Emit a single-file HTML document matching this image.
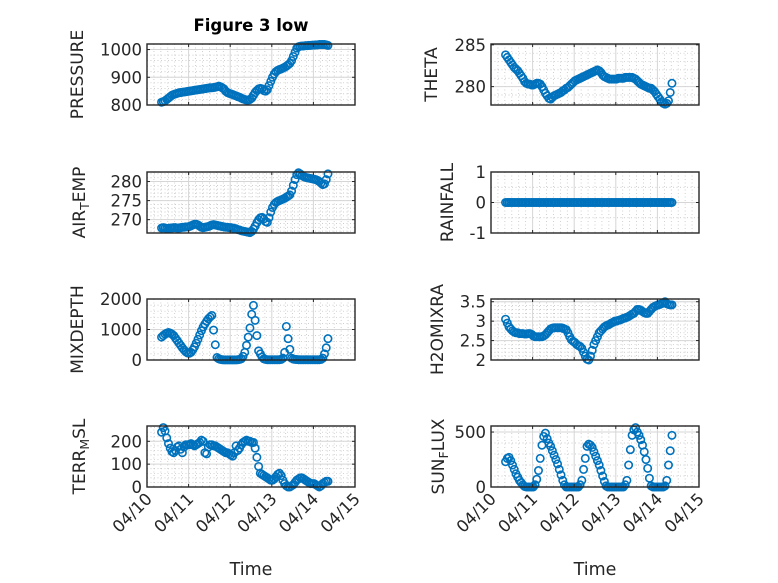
<!DOCTYPE html>
<html><head><meta charset="utf-8">
<style>
html,body{margin:0;padding:0;background:#fff;}
svg{display:block;font-family:"DejaVu Sans","Liberation Sans",sans-serif;}
</style></head>
<body>
<svg id="fig" width="778" height="583" viewBox="0 0 778 583" xmlns="http://www.w3.org/2000/svg">
<rect width="778" height="583" fill="#fff"/>
<text x="251" y="31" text-anchor="middle" font-size="16.5" font-weight="bold" fill="#000">Figure 3 low</text>
</svg>
<script>
const startDay = 0.35;
const stepDays = 1/24;
const xTickLabels = ["04/10","04/11","04/12","04/13","04/14","04/15"];
const pressure = [810,812,815,820,825,830,835,838,840,842,844,845,846,847,848,849,
850,851,852,853,854,855,856,857,858,859,860,861,862,862,863,864,
866,868,866,862,858,850,845,842,840,838,835,833,830,828,825,822,
820,818,818,820,825,835,845,852,858,860,858,852,850,855,870,885,
900,912,920,925,928,930,933,936,940,945,950,960,975,990,1005,1010,
1012,1013,1013,1014,1014,1015,1015,1016,1016,1017,1017,1018,1018,1018,1018,1017,1015];
const theta = [283.8,283.5,283.2,282.9,282.6,282.3,282.1,281.9,281.6,281.3,281.0,280.6,280.4,280.3,280.3,280.2,
280.2,280.3,280.4,280.4,280.3,280.0,279.6,279.2,278.9,278.6,278.5,278.7,278.9,279.0,279.1,279.2,
279.3,279.5,279.6,279.8,279.9,280.1,280.3,280.5,280.7,280.8,280.9,281.0,281.1,281.2,281.3,281.4,
281.5,281.6,281.7,281.8,281.9,282.0,281.9,281.7,281.4,281.2,281.1,281.0,280.9,280.9,280.9,280.9,
280.9,281.0,281.0,281.0,281.0,281.1,281.1,281.1,281.1,281.1,281.0,280.9,280.7,280.5,280.3,280.2,
280.1,280.0,279.9,279.8,279.8,279.6,279.4,279.1,278.8,278.5,278.2,278.0,277.9,278.0,278.3,279.3,280.4];
const airTemp = [267.8,267.9,267.8,267.7,267.7,267.8,267.8,267.9,267.9,267.8,267.8,267.9,268.0,268.0,268.1,268.1,
268.2,268.4,268.6,268.8,268.8,268.6,268.3,268.0,267.9,268.0,268.1,268.2,268.4,268.6,268.7,268.6,
268.5,268.4,268.3,268.2,268.1,268.0,268.0,267.9,267.9,267.8,267.7,267.6,267.4,267.3,267.1,267.0,
266.9,266.8,266.7,266.6,266.9,267.5,268.3,269.2,270.0,270.5,270.6,270.2,269.5,269.3,270.5,272.0,
273.2,274.0,274.5,274.8,275.0,275.2,275.4,275.6,275.9,276.2,276.5,277.5,279.0,280.5,281.8,282.3,
282.0,281.6,281.3,281.1,281.0,280.9,280.8,280.7,280.6,280.5,280.3,280.0,279.6,279.2,279.4,280.5,282.0];
const rainfall = [0,0,0,0,0,0,0,0,0,0,0,0,0,0,0,0,0,0,0,0,0,0,0,0,0,0,0,0,0,0,0,0,0,0,0,0,0,0,0,0,0,0,0,0,0,0,0,0,
0,0,0,0,0,0,0,0,0,0,0,0,0,0,0,0,0,0,0,0,0,0,0,0,0,0,0,0,0,0,0,0,0,0,0,0,0,0,0,0,0,0,0,0,0,0,0,0,0];
const mixDepth = [750,800,850,880,900,880,850,800,720,640,560,480,400,330,270,230,
220,250,330,430,550,680,820,960,1080,1180,1270,1350,1410,1460,980,500,
80,40,20,10,5,5,5,5,5,5,5,5,10,20,40,120,
250,480,750,1050,1500,1790,1300,800,300,200,100,40,20,10,10,10,
10,10,10,10,10,20,60,250,1100,700,350,60,30,20,15,10,
10,10,10,10,10,10,10,10,10,10,10,10,20,60,200,400,700];
const h2oMixRa = [3.05,2.95,2.85,2.8,2.75,2.72,2.7,2.7,2.68,2.68,2.68,2.67,2.67,2.68,2.68,2.66,
2.62,2.6,2.6,2.6,2.6,2.6,2.62,2.65,2.7,2.75,2.8,2.82,2.83,2.83,2.83,2.83,
2.83,2.82,2.8,2.78,2.7,2.6,2.52,2.48,2.45,2.4,2.37,2.35,2.3,2.2,2.1,2.02,
2.0,2.1,2.25,2.4,2.5,2.6,2.7,2.75,2.8,2.85,2.88,2.9,2.92,2.95,2.97,3.0,
3.0,3.02,3.03,3.05,3.07,3.08,3.1,3.12,3.15,3.18,3.2,3.25,3.3,3.3,3.28,3.25,
3.22,3.2,3.2,3.25,3.3,3.35,3.38,3.4,3.42,3.43,3.45,3.47,3.5,3.45,3.43,3.42,3.42];
const terrMsl = [240,260,245,215,190,170,155,150,160,175,180,165,150,175,185,185,
185,190,185,180,185,190,195,205,200,150,145,175,185,185,180,180,
175,170,165,160,155,150,150,145,140,135,150,180,160,170,185,195,
200,205,200,200,195,195,170,130,90,60,55,50,45,40,35,30,
30,35,45,55,60,50,30,15,5,0,0,5,10,20,30,35,
40,40,35,30,25,20,15,15,15,10,5,0,5,15,20,25,25];
const sunFlux = [230,260,270,240,200,160,120,90,60,40,20,5,0,0,0,0,
0,20,70,150,260,380,460,490,440,400,370,330,290,250,210,160,
110,60,20,0,0,0,0,0,0,0,0,20,60,160,260,370,
390,380,360,320,280,240,200,150,100,50,10,0,0,0,0,0,
0,0,0,0,0,20,60,200,340,470,520,540,500,470,430,380,
320,250,170,80,10,0,0,0,0,0,0,0,10,60,200,330,470];
const pressureTicks = [800,900,1000];
const thetaTicks = [280,285];
const airTicks = [270,275,280];
const rainTicks = [-1,0,1];
const mixTicks = [0,1000,2000];
const h2oTicks = [2,2.5,3,3.5];
const terrTicks = [0,100,200];
const sunTicks = [0,500];

const NS = "http://www.w3.org/2000/svg";
const svg = document.getElementById('fig');
function mk(tag, attrs, parent){
  const e = document.createElementNS(NS, tag);
  for (const k in attrs) e.setAttribute(k, attrs[k]);
  (parent||svg).appendChild(e);
  return e;
}
const panels = [
  {name:'pressure', data:pressure, ticks:pressureTicks, ymin:800, ymax:1020, x:147, y:44, lab:['PRESSURE'], lx:77, minor:5},
  {name:'theta', data:theta, ticks:thetaTicks, ymin:277.8, ymax:285.1, x:491, y:44, lab:['THETA'], lx:431, minor:5},
  {name:'air-temp', data:airTemp, ticks:airTicks, ymin:266.5, ymax:282.5, x:147, y:172, lab:['AIR','T','EMP'], lx:79, minor:5},
  {name:'rainfall', data:rainfall, ticks:rainTicks, ymin:-1, ymax:1, x:491, y:172, lab:['RAINFALL'], lx:447, minor:2},
  {name:'mixdepth', data:mixDepth, ticks:mixTicks, ymin:0, ymax:2000, x:147, y:299, lab:['MIXDEPTH'], lx:77, minor:5},
  {name:'h2omixra', data:h2oMixRa, ticks:h2oTicks, ymin:2, ymax:3.57, x:491, y:299, lab:['H2OMIXRA'], lx:437, minor:5},
  {name:'terr-msl', data:terrMsl, ticks:terrTicks, ymin:0, ymax:267, x:147, y:426, lab:['TERR','M','SL'], lx:79, minor:5},
  {name:'sun-flux', data:sunFlux, ticks:sunTicks, ymin:0, ymax:555, x:491, y:426, lab:['SUN','F','LUX'], lx:438, minor:5}
];
const W = 208, H = 61, XMIN = 0, XMAX = 5;
panels.forEach((p, pi) => {
  const g = mk('g', {});
  
  
  const xs = v => p.x + (v - XMIN) / (XMAX - XMIN) * W;
  const ys = v => p.y + H - (v - p.ymin) / (p.ymax - p.ymin) * H;
  for (let d = 0; d < 5; d++) for (let k = 1; k < 6; k++) {
    const X = xs(d + k/6);
    mk('line', {x1:X, x2:X, y1:p.y, y2:p.y+H, stroke:'#bdbdbd', 'stroke-width':0.7, 'stroke-dasharray':'1 2.5'}, g);
  }
  const tstep = p.ticks.length > 1 ? p.ticks[1] - p.ticks[0] : 1;
  for (let v = p.ymin - (p.ymin % (tstep/p.minor)); v <= p.ymax; v += tstep/p.minor) {
    const Y = ys(v);
    if (Y < p.y || Y > p.y + H) continue;
    mk('line', {x1:p.x, x2:p.x+W, y1:Y, y2:Y, stroke:'#bdbdbd', 'stroke-width':0.7, 'stroke-dasharray':'1 2.5'}, g);
  }
  xTickLabels.forEach((l, i) => {
    const X = xs(i);
    mk('line', {x1:X, x2:X, y1:p.y, y2:p.y+H, stroke:'#d6d6d6', 'stroke-width':1}, g);
  });
  p.ticks.forEach(t => {
    const Y = ys(t);
    mk('line', {x1:p.x, x2:p.x+W, y1:Y, y2:Y, stroke:'#d6d6d6', 'stroke-width':1}, g);
  });
  const sg = mk('g', {fill:'none', stroke:'#0072BD', 'stroke-width':1.6}, g);
  
  
  p.data.forEach((v, i) => {
    const c = mk('circle', {cx:xs(startDay + i*stepDays), cy:ys(v), r:3.7}, sg);
    
    
  });
  mk('rect', {x:p.x, y:p.y, width:W, height:H, fill:'none', stroke:'#262626', 'stroke-width':1.4}, g);
  xTickLabels.forEach((l, i) => {
    const X = xs(i);
    mk('line', {x1:X, x2:X, y1:p.y+H, y2:p.y+H-3, stroke:'#262626', 'stroke-width':1}, g);
    mk('line', {x1:X, x2:X, y1:p.y, y2:p.y+3, stroke:'#262626', 'stroke-width':1}, g);
  });
  p.ticks.forEach(t => {
    const Y = ys(t);
    mk('line', {x1:p.x, x2:p.x+3, y1:Y, y2:Y, stroke:'#262626', 'stroke-width':1}, g);
    mk('line', {x1:p.x+W, x2:p.x+W-3, y1:Y, y2:Y, stroke:'#262626', 'stroke-width':1}, g);
    const tl = mk('text', {x:p.x-5, y:Y+6, 'text-anchor':'end', 'font-size':16.5, fill:'#262626'}, g);
    tl.textContent = String(t);
    
    
  });
  const cy = p.y + H/2;
  const yl = mk('text', {x:0, y:0, 'text-anchor':'middle', 'font-size':17, fill:'#262626', transform:`translate(${p.lx + 6},${cy}) rotate(-90)`}, g);
  
  
  if (p.lab.length === 1) { yl.textContent = p.lab[0]; }
  else {
    const a = mk('tspan', {}, yl); a.textContent = p.lab[0];
    const b = mk('tspan', {dy:4, 'font-size':12.5}, yl); b.textContent = p.lab[1];
    const c = mk('tspan', {dy:-4}, yl); c.textContent = p.lab[2];
  }
  if (pi >= 6) {
    xTickLabels.forEach((l, i) => {
      const X = xs(i);
      const t = mk('text', {x:0, y:0, 'text-anchor':'end', 'font-size':16.5, fill:'#262626', transform:`translate(${X+6},${p.y+H+13}) rotate(-45)`}, g);
      t.textContent = l;
      
      
    });
    const xl = mk('text', {x:p.x + W/2, y:575, 'text-anchor':'middle', 'font-size':17.5, fill:'#262626'}, g);
    xl.textContent = 'Time';
    
    
  }
});
</script>
</body></html>
